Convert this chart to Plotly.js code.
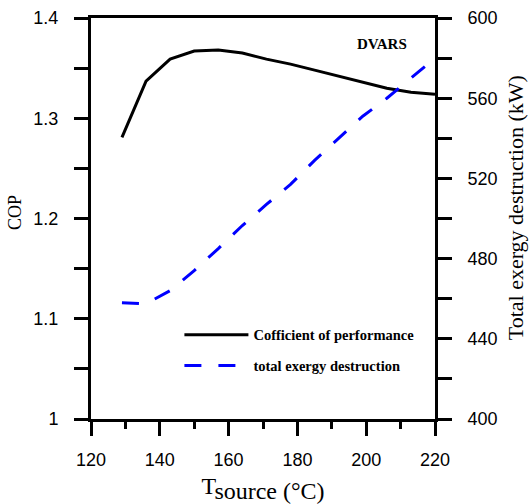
<!DOCTYPE html>
<html><head><script src="https://cdn.plot.ly/plotly-3.0.1.min.js"></script>
<style>body{margin:0;background:#fff}</style></head><body>
<div id="chart" style="width:532px;height:504px"></div>
<script>
const temps = [129,136,143,150,157,164,171,178,185,192,199,206,213,220];
const cop = [1.281,1.337,1.359,1.367,1.368,1.365,1.359,1.354,1.348,1.342,1.336,1.330,1.326,1.324];
const exergy = [458,457.5,464,474,485,496.5,507,517,529,540,551,560,570,580];
const copName = 'Cofficient of performance';
const exName = 'total exergy destruction';

const serif = '"Liberation Serif", "Times New Roman", serif';
const sans = '"Liberation Sans", Arial, sans-serif';

const traces = [
  {x: temps, y: cop, name: copName, type: 'scatter', mode: 'lines', yaxis: 'y',
   legendgroup: 'a', line: {color: '#000', width: 3}},
  {x: temps, y: exergy, name: exName, type: 'scatter', mode: 'lines', yaxis: 'y2',
   legendgroup: 'b', line: {color: '#0000ff', width: 3, dash: '17px,17px'}}
];

const axisCommon = {
  showline: true, linewidth: 3, linecolor: '#000', ticks: 'outside', ticklen: 14,
  tickwidth: 3, tickcolor: '#000', showgrid: false, zeroline: false,
  tickfont: {family: sans, size: 18, color: '#000'}
};

const layout = {
  width: 532, height: 504,
  margin: {l: 91, r: 97, t: 18, b: 85},
  paper_bgcolor: '#fff', plot_bgcolor: '#fff',
  showlegend: true,
  legend: {x: 0.257, y: 0.25, xanchor: 'left', yanchor: 'top', bgcolor: 'rgba(0,0,0,0)',
    font: {family: serif, size: 14.5, color: '#000', weight: 'bold'}, tracegroupgap: 9,
    itemwidth: 64},
  xaxis: Object.assign({}, axisCommon, {
    range: [120, 220], dtick: 20, tick0: 120, mirror: true,
    minor: {dtick: 10, ticks: 'outside', ticklen: 7, tickwidth: 3, tickcolor: '#000'},
    ticklabelstandoff: 8,
    title: {text: 'T<sub><span style="font-size:24px">source (°C)</span></sub>',
      font: {family: serif, size: 24, color: '#000'}, standoff: 11}
  }),
  yaxis: Object.assign({}, axisCommon, {
    range: [1, 1.4], dtick: 0.1, tick0: 1,
    minor: {dtick: 0.05, ticks: 'outside', ticklen: 14, tickwidth: 3, tickcolor: '#000'},
    ticklabelstandoff: 12
  }),
  yaxis2: Object.assign({}, axisCommon, {
    range: [400, 600], dtick: 40, tick0: 400, overlaying: 'y', side: 'right',
    minor: {dtick: 20, ticks: 'outside', ticklen: 14, tickwidth: 3, tickcolor: '#000'},
    ticklabelstandoff: 12
  }),
  annotations: [
    {text: '<b>DVARS</b>', xref: 'paper', yref: 'paper', x: 0.925, y: 0.935,
     xanchor: 'right', yanchor: 'middle', showarrow: false,
     font: {family: serif, size: 15, color: '#000'}},
    {text: 'COP', xref: 'paper', yref: 'paper', x: -0.221, y: 0.516, textangle: -90,
     xanchor: 'center', yanchor: 'middle', showarrow: false,
     font: {family: serif, size: 18, color: '#000'}},
    {text: 'Total exergy destruction (kW)', xref: 'paper', yref: 'paper', x: 1.233, y: 0.526,
     textangle: -90, xanchor: 'center', yanchor: 'middle', showarrow: false,
     font: {family: serif, size: 22, color: '#000'}}
  ]
};

Plotly.newPlot('chart', traces, layout, {displayModeBar: false, staticPlot: true});
</script></body></html>
